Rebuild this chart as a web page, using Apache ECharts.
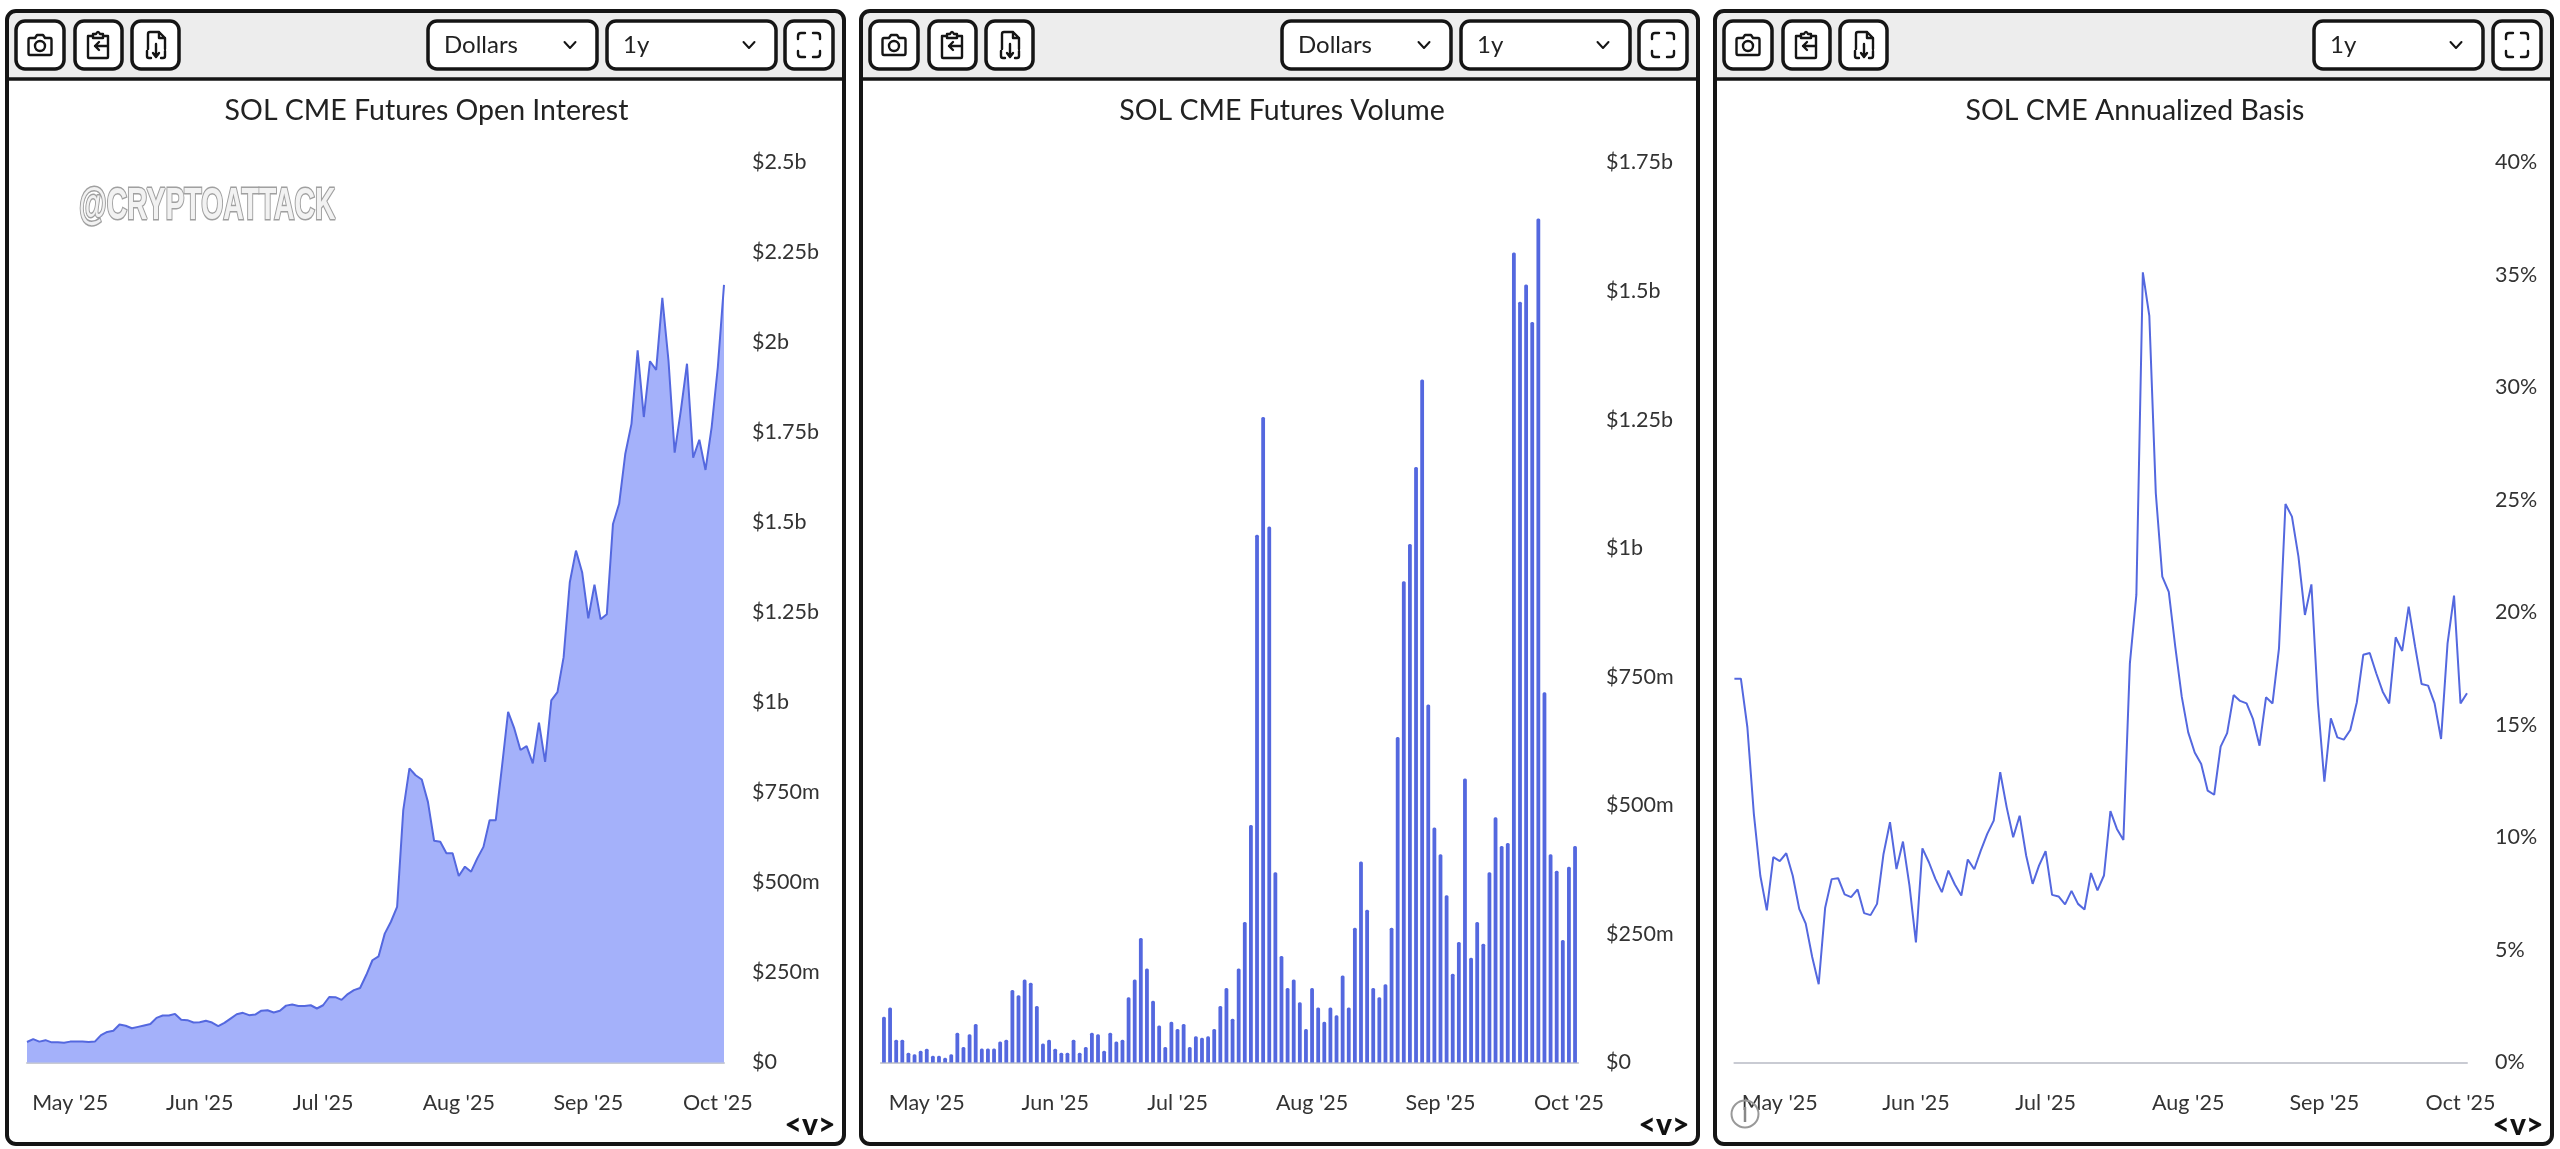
<!DOCTYPE html>
<html>
<head>
<meta charset="utf-8">
<title>SOL CME Futures</title>
<style>html,body{margin:0;padding:0;background:#fff}#c{width:2560px;height:1149px}</style>
<script src="https://cdn.jsdelivr.net/npm/echarts@6/dist/echarts.min.js"></script>
</head>
<body>
<div id="c"></div>
<script>
const tradingDates = [
'2025-04-22','2025-04-23','2025-04-24','2025-04-25','2025-04-28','2025-04-29','2025-04-30',
'2025-05-01','2025-05-02','2025-05-05','2025-05-06','2025-05-07','2025-05-08','2025-05-09','2025-05-12','2025-05-13','2025-05-14','2025-05-15','2025-05-16','2025-05-19','2025-05-20','2025-05-21','2025-05-22','2025-05-23','2025-05-27','2025-05-28','2025-05-29','2025-05-30',
'2025-06-02','2025-06-03','2025-06-04','2025-06-05','2025-06-06','2025-06-09','2025-06-10','2025-06-11','2025-06-12','2025-06-13','2025-06-16','2025-06-17','2025-06-18','2025-06-20','2025-06-23','2025-06-24','2025-06-25','2025-06-26','2025-06-27','2025-06-30',
'2025-07-01','2025-07-02','2025-07-03','2025-07-07','2025-07-08','2025-07-09','2025-07-10','2025-07-11','2025-07-14','2025-07-15','2025-07-16','2025-07-17','2025-07-18','2025-07-21','2025-07-22','2025-07-23','2025-07-24','2025-07-25','2025-07-28','2025-07-29','2025-07-30','2025-07-31',
'2025-08-01','2025-08-04','2025-08-05','2025-08-06','2025-08-07','2025-08-08','2025-08-11','2025-08-12','2025-08-13','2025-08-14','2025-08-15','2025-08-18','2025-08-19','2025-08-20','2025-08-21','2025-08-22','2025-08-25','2025-08-26','2025-08-27','2025-08-28','2025-08-29',
'2025-09-02','2025-09-03','2025-09-04','2025-09-05','2025-09-08','2025-09-09','2025-09-10','2025-09-11','2025-09-12','2025-09-15','2025-09-16','2025-09-17','2025-09-18','2025-09-19','2025-09-22','2025-09-23','2025-09-24','2025-09-25','2025-09-26','2025-09-29','2025-09-30',
'2025-10-01','2025-10-02'];
const monthStarts = ['2025-05-01','2025-06-02','2025-07-01','2025-08-01','2025-09-02','2025-10-01'];
const monthLabels = ["May '25","Jun '25","Jul '25","Aug '25","Sep '25","Oct '25"];

const oiTicks = ['$0','$250m','$500m','$750m','$1b','$1.25b','$1.5b','$1.75b','$2b','$2.25b','$2.5b'];
const volTicks = ['$0','$250m','$500m','$750m','$1b','$1.25b','$1.5b','$1.75b'];
const basisTicks = ['0%','5%','10%','15%','20%','25%','30%','35%','40%'];

/* Open interest, $ millions */
const openInterest = [57,65,58,62,56,56.5,55,58,58,58,57,58,76,85,88,105.5,102,95,99,103,107,124,130.5,130.5,135,119,117.6,111,112,116,111,101,110,122,134,138,131.5,133,144,145,139,143.5,158,161,157,157,159,150,159,182,181.5,174,190,201,207,243,284,295,358,391,432,701,817,798,786,724,616,613,581,581,518,544,530,567,599,673,673,821,974,928,868,879,831,944,835,1006,1029,1126,1334,1422,1362,1234,1327,1231,1245,1496,1552,1691,1774,1978,1793,1948,1924,2124,1950,1694,1811,1941,1680,1730,1646,1765,1932,2160];
/* Volume, $ millions */
const volume = [89,107,44,44,19,16,23,26.5,13,13,9,16,58,30,55,75,27,27,27,41,44,141,131,161.5,155,110,37,44,26.5,19,19,44,19,30,58,55,23,58,41,44,127,161.5,242,183,120,72,30,79,65,75,30,51,48,51,65,110,145,85,183,273,462,1026,1255,1042,370,207,145,161.5,117,65,145,107,79,107,92,169,107,262,391,297,145,127,152,262,633,936,1008,1158,1328,696,457,405,325,172.5,234.5,552,203.5,273,231,370,477,421,427,1575,1479,1513,1440,1641,720,405,373,238,380.5,421];
/* Annualized basis, % */
const basis = [17.06,17.06,14.9,11.05,8.3,6.76,9.13,8.95,9.3,8.3,6.83,6.17,4.69,3.48,6.88,8.15,8.19,7.47,7.35,7.69,6.64,6.55,7.05,9.27,10.68,8.6,9.82,7.87,5.34,9.52,8.9,8.16,7.57,8.53,7.91,7.42,9.02,8.59,9.42,10.16,10.75,12.9,11.34,10.01,10.97,9.2,7.94,8.76,9.39,7.45,7.38,7.03,7.63,7.05,6.8,8.42,7.65,8.31,11.17,10.38,9.89,17.74,20.78,35.12,33.18,25.3,21.59,20.92,18.48,16.26,14.67,13.78,13.27,12.08,11.9,14.04,14.64,16.33,16.07,15.96,15.26,14.08,16.23,15.96,18.41,24.82,24.26,22.48,19.89,21.25,16,12.48,15.3,14.45,14.35,14.78,16,18.12,18.2,17.3,16.48,15.96,18.9,18.29,20.26,18.48,16.82,16.75,15.96,14.38,18.63,20.75,15.96,16.41];

const FONT = 'Lato';
const TEXT = '#333333';
const LINE = '#5468DF';
const AREA = '#A4B1FA';
const BASE = '#C9CBD3';

const chart = echarts.init(document.getElementById('c'), null, {width:2560, height:1149, devicePixelRatio:1});

const GRID_TOP = 162.5, GRID_BOTTOM = 1149 - 1062.5;

function gridAt(l, r){ return {left:l, width:r-l, top:GRID_TOP, bottom:GRID_BOTTOM, containLabel:false}; }
function xAxis(i, gap){
  return {
    type:'category', gridIndex:i, data:tradingDates, boundaryGap:gap,
    axisTick:{show:false},
    axisLine:{show:true, lineStyle:{color:BASE, width:2}, onZero:true},
    splitLine:{show:false},
    axisLabel:{
      show:true, margin:30, color:TEXT, fontFamily:FONT, fontSize:21.5, hideOverlap:false,
      interval:(idx, v)=>monthStarts.indexOf(v)>=0,
      formatter:(v)=>monthLabels[monthStarts.indexOf(v)] || ''
    }
  };
}
function yAxis(i, max, step, ticks){
  return {
    type:'value', gridIndex:i, position:'right', min:0, max:max, interval:step,
    axisLine:{show:false}, axisTick:{show:false}, splitLine:{show:false},
    axisLabel:{margin:28, color:TEXT, fontFamily:FONT, fontSize:21.5, align:'left',
      formatter:(v)=>ticks[Math.round(v/step)]}
  };
}

/* panel furniture */
let shapeCount = 0;
function rr(x,y,w,h,r,style){ return {type:'rect', silent:true, shape:{x,y,width:w,height:h,r}, style}; }
function txt(x,y,t,size,extra){
  return {type:'text', silent:true, x, y, style:Object.assign({text:t, fontFamily:FONT, fontSize:size, fill:TEXT, textVerticalAlign:'middle', textAlign:'left'}, extra||{})};
}
function pth(d, x, y, lw){
  const name = 'icon' + (shapeCount++);
  echarts.graphic.registerShape(name, echarts.graphic.extendPath(d, {}));
  return {type:name, silent:true, x, y, style:{stroke:'#151515', lineWidth:lw||2.4, fill:'none', lineCap:'round', lineJoin:'round'}};
}
function panel(px, hasUnits, dropX){
  const out = [];
  const W = 837, T = 11, B = 1144;
  out.push(rr(px, T, W, B-T, 9, {fill:'#fff', stroke:'none'}));
  out.push(rr(px, T, W, 68, [9,9,0,0], {fill:'#EDEDED', stroke:'none'}));
  out.push(rr(px, T, W, B-T, 9, {fill:'none', stroke:'#151515', lineWidth:4}));
  out.push({type:'line', silent:true, shape:{x1:px, y1:79, x2:px+W, y2:79}, style:{stroke:'#151515', lineWidth:3.5}});
  const BTN = {fill:'#fff',stroke:'#151515',lineWidth:3.5};
  const btn = (x,w)=>out.push(rr(px+x,21,w,48,9,BTN));
  btn(9,48); btn(68,47); btn(125,47);
  /* camera */
  out.push(pth('M-10 -7 H-5 L-3 -10 H3 L5 -7 H10 Q11.5 -7 11.5 -5 V8 Q11.5 10 10 10 H-10 Q-11.5 10 -11.5 8 V-5 Q-11.5 -7 -10 -7 Z', px+33, 45));
  out.push({type:'circle', silent:true, shape:{cx:px+33, cy:46, r:5}, style:{stroke:'#151515', lineWidth:2.4, fill:'none'}});
  /* clipboard */
  out.push(pth('M-6 -9 H-10 V12 Q-10 13 -9 13 H9 Q10 13 10 12 V-9 H6 M-5 -9 V-11 H-2 Q0 -15 2 -11 H5 V-7 H-5 Z M9 1 H-3 M1 -3 L-3 1 L1 5', px+91, 45));
  /* file */
  out.push(pth('M-8 4 V-11 Q-8 -13 -6 -13 H3 L9 -7 V4 M3 -13 V-7 H9 M-9 6 V11 Q-9 13 -7 13 H-5 M9 6 V11 Q9 13 7 13 H5 M0 -1 V11 M-3 8 L0 12 L3 8', px+149, 45));
  /* unit and range selectors */
  const sel = (x,w,label)=>{
    out.push(rr(px+x,21,w,48,9,BTN));
    out.push(txt(px+x+16,45,label,24,{fill:'#222'}));
    out.push(pth('M-5.5 -3 L0 3 L5.5 -3', px+x+w-27, 45, 2));
  };
  if(hasUnits) sel(421,169,'Dollars');
  sel(dropX,169,'1y');
  /* fullscreen */
  out.push(rr(px+778,21,48,48,9,BTN));
  out.push(pth('M-11 -6 V-9 Q-11 -12 -8 -12 H-4 M4 -12 H8 Q11 -12 11 -9 V-6 M-11 6 V9 Q-11 12 -8 12 H-4 M4 12 H8 Q11 12 11 9 V6', px+802, 45));
  /* sub-menu glyph */
  out.push(txt(px+803,1125,'<v>',30,{fontWeight:900, fill:'#111', textAlign:'center', fontFamily:'Lato'}));
  return out;
}
const graphics = [].concat(
  panel(7, true, 600),
  panel(861, true, 600),
  panel(1715, false, 599)
);
graphics.push(
  {type:'circle', silent:true, z:50, shape:{cx:1745, cy:1114, r:13.5}, style:{stroke:'#999', lineWidth:2, fill:'none'}},
  {type:'line', silent:true, z:50, shape:{x1:1745, y1:1107, x2:1745, y2:1122}, style:{stroke:'#888', lineWidth:2.5}},
  {type:'text', silent:true, z:50, x:79, y:207, scaleX:0.63,
   style:{text:'@CRYPTOATTACK', fontFamily:'"Liberation Sans"', fontWeight:'bold', fontSize:45, fill:'#F2F2F2', stroke:'#A0A0A0', lineWidth:3, textVerticalAlign:'middle', shadowColor:'rgba(0,0,0,.35)', shadowBlur:4, shadowOffsetX:1, shadowOffsetY:3}}
);

const TITLE = {fontFamily:FONT, fontSize:28.5, fontWeight:'normal', color:'#222'};
chart.setOption({
  animation:false,
  backgroundColor:'#fff',
  title:[
    {text:'SOL CME Futures Open Interest', left:421.5, top:106, textAlign:'center', textVerticalAlign:'middle', textStyle:TITLE},
    {text:'SOL CME Futures Volume', left:1277, top:106, textAlign:'center', textVerticalAlign:'middle', textStyle:TITLE},
    {text:'SOL CME Annualized Basis', left:2130, top:106, textAlign:'center', textVerticalAlign:'middle', textStyle:TITLE}
  ],
  graphic:{elements:graphics},
  grid:[gridAt(27,724), gridAt(880.9,1578.1), gridAt(1734.4,2467)],
  xAxis:[xAxis(0,false), xAxis(1,true), xAxis(2,false)],
  yAxis:[yAxis(0,2500,250,oiTicks), yAxis(1,1750,250,volTicks), yAxis(2,40,5,basisTicks)],
  series:[
    {type:'line', xAxisIndex:0, yAxisIndex:0, data:openInterest, symbol:'none', smooth:false,
     lineStyle:{color:LINE, width:2}, areaStyle:{color:AREA, opacity:1}},
    {type:'bar', xAxisIndex:1, yAxisIndex:1, data:volume, barWidth:3.8,
     itemStyle:{color:LINE, borderRadius:[1.5,1.5,0,0]}},
    {type:'line', xAxisIndex:2, yAxisIndex:2, data:basis, symbol:'none', smooth:false,
     lineStyle:{color:LINE, width:2}}
  ]
});
</script>
</body>
</html>
